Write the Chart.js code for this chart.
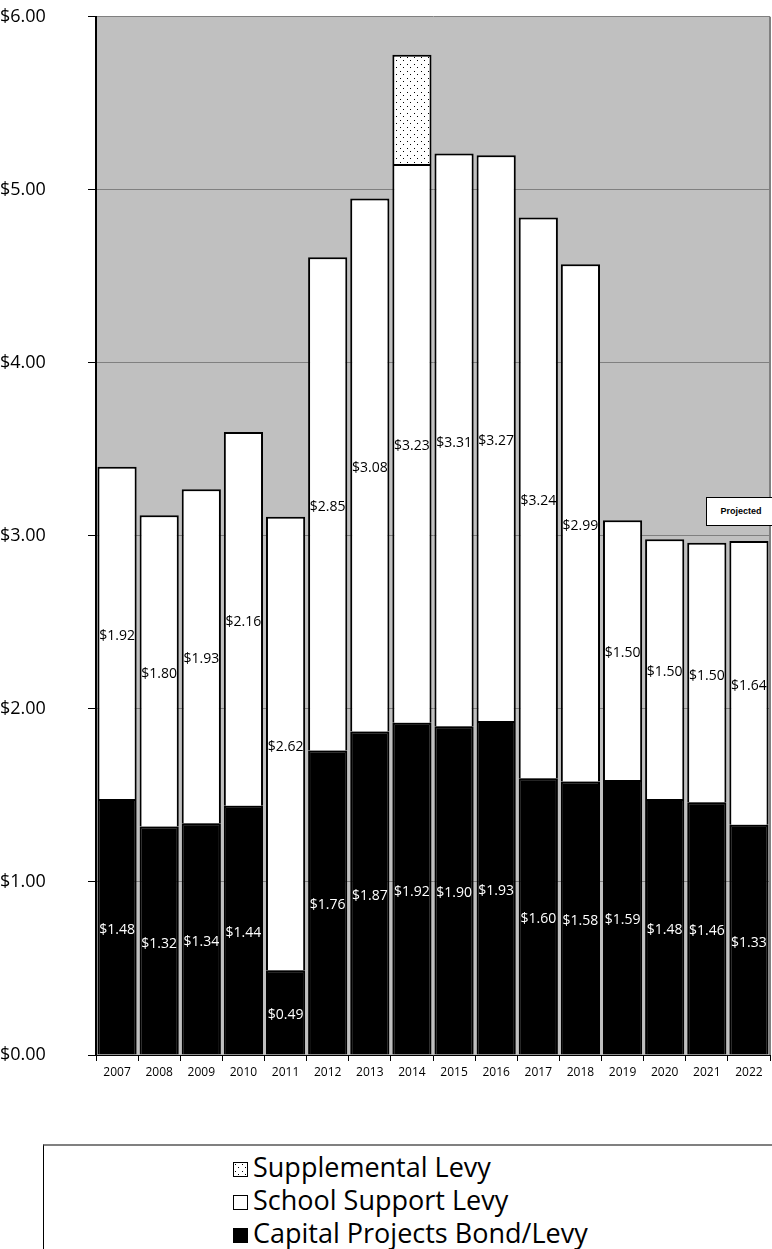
<!DOCTYPE html>
<html>
<head>
<meta charset="utf-8">
<script src="https://cdn.jsdelivr.net/npm/chart.js@4"></script>
<style>
  body { margin:0; background:#fff; width:772px; height:1249px; position:relative; overflow:hidden; font-family:"Liberation Sans", Arial, sans-serif; }
  #wrap { position:absolute; left:0; top:0; width:772px; height:1100px; }
  #projected { position:absolute; left:706px; top:497px; width:70px; height:29px; background:#fff; border:1px solid #000; box-sizing:border-box; font:bold 9px "Liberation Sans", Arial, sans-serif; text-align:center; line-height:27px; }
  #legend { position:absolute; left:43px; top:1144px; width:740px; height:110px; border-top:2px solid #808080; border-left:1px solid #000; box-sizing:border-box; }
  .item { position:absolute; left:189px; height:33px; font:27px "Open Sans", "Noto Sans", sans-serif; line-height:33px; white-space:nowrap; }
  .sw { display:inline-block; width:15px; height:15px; border:1px solid #000; margin-right:5px; vertical-align:0px; box-sizing:border-box; }
</style>
</head>
<body>
<div id="wrap"><canvas id="bar-chartcanvas" width="772" height="1100"></canvas></div>
<div id="projected">Projected</div>
<div id="legend">
  <div class="item" style="top:4px"><span class="sw" id="swSupp"></span>Supplemental Levy</div>
  <div class="item" style="top:37px"><span class="sw" style="background:#fff"></span>School Support Levy</div>
  <div class="item" style="top:70px"><span class="sw" style="background:#000"></span>Capital Projects Bond/Levy</div>
</div>
<script>
//years on the x axis
var years = ['2007','2008','2009','2010','2011','2012','2013','2014','2015','2016','2017','2018','2019','2020','2021','2022'];

//levy rates ($ per $1,000)
var capitalProjects = [1.48, 1.32, 1.34, 1.44, 0.49, 1.76, 1.87, 1.92, 1.90, 1.93, 1.60, 1.58, 1.59, 1.48, 1.46, 1.33];
var schoolSupport = [1.92, 1.80, 1.93, 2.16, 2.62, 2.85, 3.08, 3.23, 3.31, 3.27, 3.24, 2.99, 1.50, 1.50, 1.50, 1.64];
var supplemental = [0, 0, 0, 0, 0, 0, 0, 0.63, 0, 0, 0, 0, 0, 0, 0, 0];

//y axis ticks
var yMin = 0, yMax = 6, yStep = 1;

//dotted pattern for the supplemental levy
function dotPattern() {
    var c = document.createElement('canvas');
    c.width = 7; c.height = 7;
    var g = c.getContext('2d');
    g.fillStyle = '#fff';
    g.fillRect(0, 0, 7, 7);
    g.fillStyle = '#000';
    g.fillRect(1, 1, 1, 1);
    g.fillRect(4, 4, 1, 1);
    return c;
}
var patCanvas = dotPattern();
document.getElementById('swSupp').style.background = 'url(' + patCanvas.toDataURL() + ')';

var ctx = document.getElementById('bar-chartcanvas').getContext('2d');
var pattern = ctx.createPattern(patCanvas, 'repeat');

//gray plot background
var plotBg = {
    id: 'plotBg',
    beforeDraw: function(chart) {
        var a = chart.chartArea, c = chart.ctx;
        c.save();
        c.fillStyle = '#c0c0c0';
        c.fillRect(a.left, a.top, a.right - a.left, a.bottom - a.top);
        c.strokeStyle = '#808080';
        c.lineWidth = 2;
        c.beginPath();
        c.moveTo(a.right, a.top);
        c.lineTo(a.right, a.bottom);
        c.stroke();
        c.restore();
    }
};

//value labels in the middle of each segment
var segLabels = {
    id: 'segLabels',
    afterDatasetsDraw: function(chart) {
        var c = chart.ctx;
        c.save();
        c.font = '14px "Open Sans", "Liberation Sans", sans-serif';
        c.textAlign = 'center';
        c.textBaseline = 'middle';
        [0, 1].forEach(function(di) {
            var meta = chart.getDatasetMeta(di);
            var ds = chart.data.datasets[di];
            meta.data.forEach(function(bar, i) {
                var v = ds.data[i];
                if (!v) return;
                c.fillStyle = di === 0 ? '#fff' : '#000';
                c.fillText('$' + v.toFixed(2), bar.x, (bar.y + bar.base) / 2 + 3);
            });
        });
        c.restore();
    }
};

var chart = new Chart(ctx, {
    type: 'bar',
    data: {
        labels: years,
        datasets: [
            { label: 'Capital Projects Bond/Levy', data: capitalProjects, backgroundColor: '#000', borderColor: '#000', borderWidth: 2 },
            { label: 'School Support Levy', data: schoolSupport, backgroundColor: '#fff', borderColor: '#000', borderWidth: 2 },
            { label: 'Supplemental Levy', data: supplemental, backgroundColor: pattern, borderColor: '#000', borderWidth: 2 }
        ]
    },
    options: {
        responsive: false,
        animation: false,
        layout: { padding: { top: 13, right: 2, bottom: 0, left: 0 } },
        plugins: { legend: { display: false }, tooltip: { enabled: false } },
        datasets: { bar: { categoryPercentage: 0.93, barPercentage: 1 } },
        scales: {
            x: {
                stacked: true,
                grid: { drawOnChartArea: false, offset: true, tickLength: 6, color: '#000' },
                border: { color: '#000', width: 1 },
                ticks: { color: '#000', font: { size: 12, family: '"Open Sans", "Liberation Sans", sans-serif' }, padding: 4, maxRotation: 0 },
                afterFit: function(s) { s.height = 45; }
            },
            y: {
                stacked: true,
                min: yMin, max: yMax,
                grid: { color: '#808080', lineWidth: 1, tickLength: 8, tickColor: '#000' },
                border: { color: '#000', width: 2 },
                ticks: {
                    stepSize: yStep, color: '#000', padding: 6, crossAlign: 'far',
                    font: { size: 18, family: '"Open Sans", "Liberation Sans", sans-serif' },
                    callback: function(v) { return '$' + v.toFixed(2); }
                },
                afterFit: function(s) { s.width = 96; }
            }
        }
    },
    plugins: [plotBg, segLabels]
});
</script>
</body>
</html>
